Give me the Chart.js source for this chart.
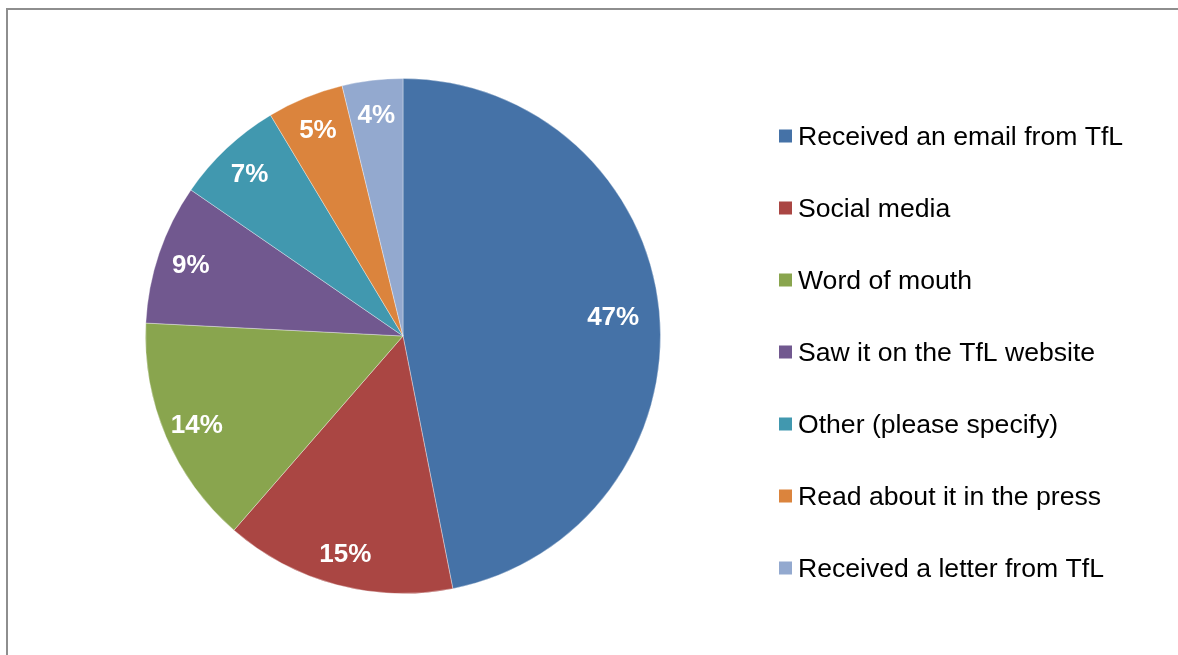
<!DOCTYPE html>
<html>
<head>
<meta charset="utf-8">
<script src="https://cdn.jsdelivr.net/npm/chart.js@4/dist/chart.umd.min.js"></script>
<style>
  body { margin: 0; background: #fff; overflow: hidden; }
  #frame { position: absolute; left: 6px; top: 8px; width: 1300px; height: 800px; border: 2px solid #8e8e8e; }
  #wrap { position: absolute; left: 0; top: 0; width: 1178px; height: 655px; }
</style>
</head>
<body>
<div id="frame"></div>
<div id="wrap"><canvas id="myChart" width="1178" height="655"></canvas></div>
<script>
var labels = ['Received an email from TfL', 'Social media', 'Word of mouth', 'Saw it on the TfL website',
  'Other (please specify)', 'Read about it in the press', 'Received a letter from TfL'];
var values = [46.9, 14.5, 14.4, 8.8, 6.8, 4.8, 3.8];
var colors = ['#4572A7', '#AA4643', '#89A54E', '#71588F', '#4198AF', '#DB843D', '#93A9CF'];

// percent labels inside the slices
var sliceLabels = {
  id: 'sliceLabels',
  afterDatasetsDraw: function (chart) {
    var ctx = chart.ctx;
    var meta = chart.getDatasetMeta(0);
    ctx.save();
    ctx.font = 'bold 26px "Liberation Sans", Arial, sans-serif';
    ctx.fillStyle = '#fff';
    ctx.textAlign = 'center';
    ctx.textBaseline = 'middle';
    meta.data.forEach(function (arc, i) {
      var p = arc.getProps(['x', 'y', 'startAngle', 'endAngle', 'outerRadius'], true);
      var mid = (p.startAngle + p.endAngle) / 2;
      var r = p.outerRadius * (i === 0 ? 0.82 : 0.87);
      ctx.fillText(Math.round(values[i]) + '%', p.x + Math.cos(mid) * r, p.y + Math.sin(mid) * r + 2);
    });
    ctx.restore();
  }
};

// legend on the right, Excel style
var sideLegend = {
  id: 'sideLegend',
  afterDraw: function (chart) {
    var ctx = chart.ctx;
    var ds = chart.data.datasets[0];
    ctx.save();
    ctx.font = '26.6px "Liberation Sans", Arial, sans-serif';
    ctx.textBaseline = 'middle';
    ctx.textAlign = 'left';
    chart.data.labels.forEach(function (lab, i) {
      var y = 136 + i * 72;
      ctx.fillStyle = ds.backgroundColor[i];
      ctx.fillRect(779, y - 6.5, 13, 13);
      ctx.fillStyle = '#000';
      ctx.fillText(lab, 798, y + 2);
    });
    ctx.restore();
  }
};

var ctx = document.getElementById('myChart').getContext('2d');
var myChart = new Chart(ctx, {
  type: 'pie',
  data: {
    labels: labels,
    datasets: [{
      data: values,
      backgroundColor: colors,
      borderColor: 'rgba(255,255,255,0.35)',
      borderWidth: 1,
      hoverOffset: 0,
      offset: 0
    }]
  },
  options: {
    responsive: false,
    animation: false,
    layout: { padding: { left: 145, right: 517, top: 78, bottom: 61 } },
    plugins: {
      legend: { display: false },
      tooltip: { enabled: false }
    }
  },
  plugins: [sliceLabels, sideLegend]
});
</script>
</body>
</html>
